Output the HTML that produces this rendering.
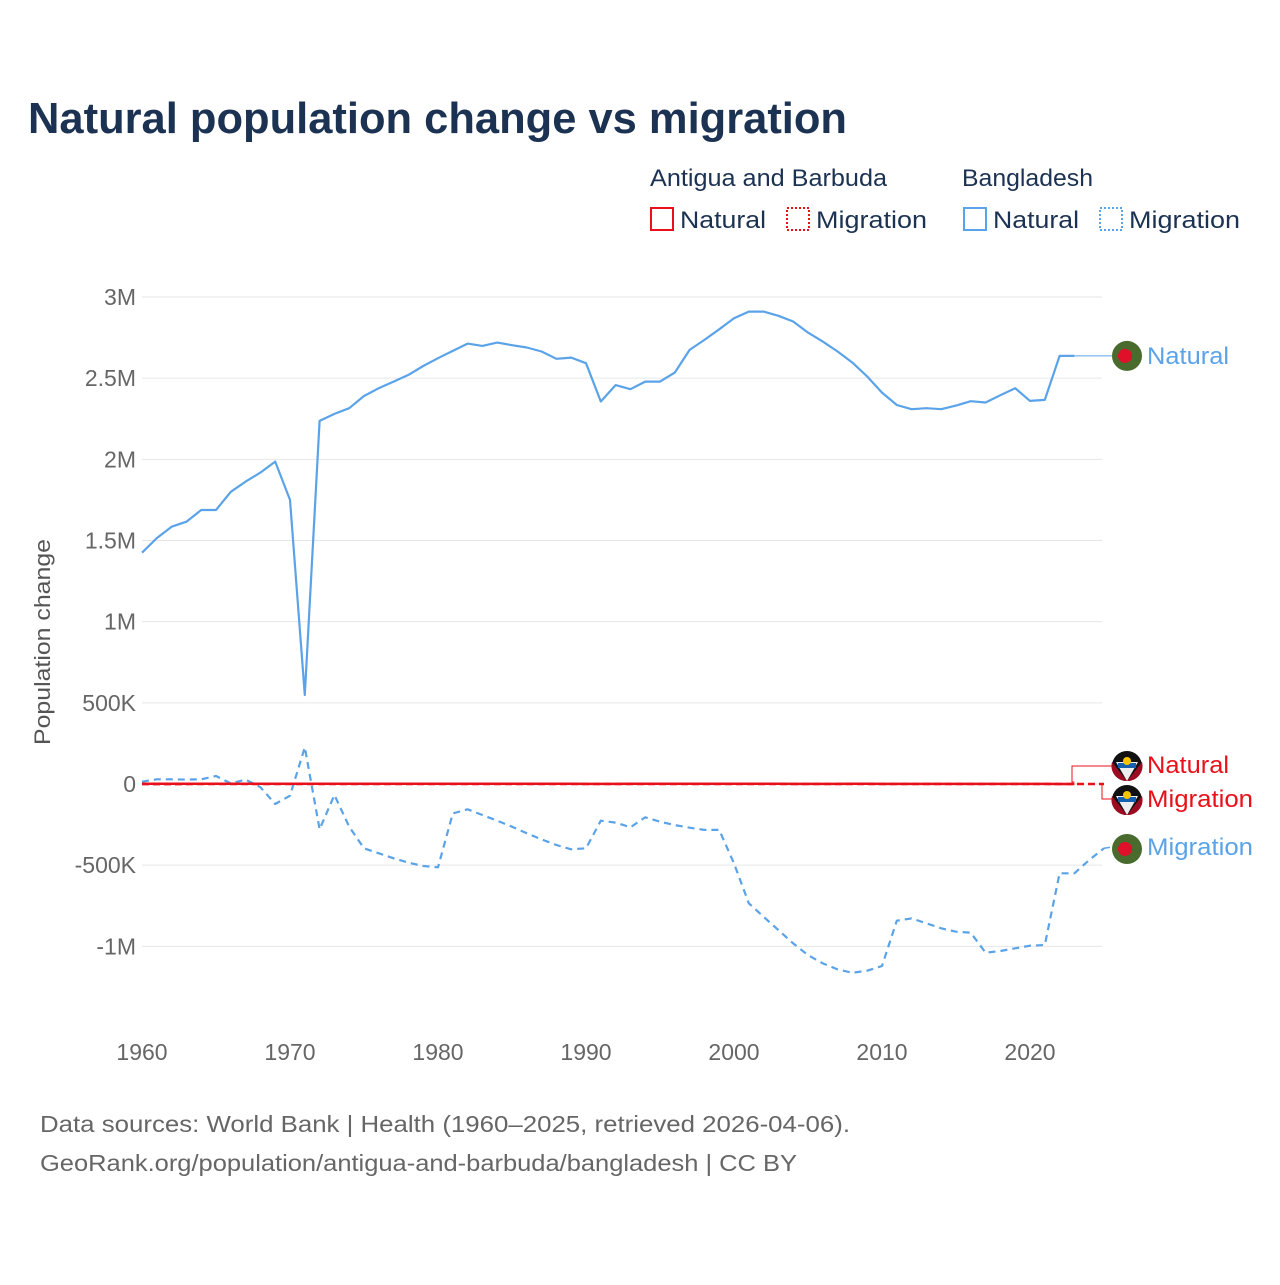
<!DOCTYPE html>
<html><head><meta charset="utf-8"><style>
body{margin:0;background:#fff;font-family:"Liberation Sans",sans-serif;}
svg text{font-family:"Liberation Sans",sans-serif;}
</style></head><body>
<svg width="1280" height="1280" viewBox="0 0 1280 1280">
<text x="28" y="133" font-size="44" font-weight="bold" fill="#1b3252" textLength="819" lengthAdjust="spacingAndGlyphs">Natural population change vs migration</text>
<g>
<text x="650" y="186" font-size="24" fill="#1b3252" textLength="237" lengthAdjust="spacingAndGlyphs">Antigua and Barbuda</text>
<text x="962" y="186" font-size="24" fill="#1b3252" textLength="131" lengthAdjust="spacingAndGlyphs">Bangladesh</text>
<g><rect x="651" y="208" width="22" height="22" fill="none" stroke="#e8101a" stroke-width="2"/><text x="680" y="228" font-size="24" fill="#1b3252" textLength="86" lengthAdjust="spacingAndGlyphs">Natural</text></g>
<g><rect x="787" y="208" width="22" height="22" fill="none" stroke="#e8101a" stroke-width="2" stroke-dasharray="2,2"/><text x="816" y="228" font-size="24" fill="#1b3252" textLength="111" lengthAdjust="spacingAndGlyphs">Migration</text></g>
<g><rect x="964" y="208" width="22" height="22" fill="none" stroke="#5ba3e8" stroke-width="2"/><text x="993" y="228" font-size="24" fill="#1b3252" textLength="86" lengthAdjust="spacingAndGlyphs">Natural</text></g>
<g><rect x="1100" y="208" width="22" height="22" fill="none" stroke="#5ba3e8" stroke-width="2" stroke-dasharray="2,2"/><text x="1129" y="228" font-size="24" fill="#1b3252" textLength="111" lengthAdjust="spacingAndGlyphs">Migration</text></g>
</g>
<g id="grid"></g>
<g id="yticks"></g>
<g id="xticks"></g>
<text transform="translate(50,642) rotate(-90)" text-anchor="middle" font-size="22" fill="#555" textLength="206" lengthAdjust="spacingAndGlyphs">Population change</text>
<g id="series"></g>
<g id="labels"></g>
<text x="40" y="1132" font-size="23" fill="#666" textLength="810" lengthAdjust="spacingAndGlyphs">Data sources: World Bank | Health (1960–2025, retrieved 2026-04-06).</text>
<text x="40" y="1171" font-size="23" fill="#666" textLength="757" lengthAdjust="spacingAndGlyphs">GeoRank.org/population/antigua-and-barbuda/bangladesh | CC BY</text>
</svg>
<script>
const startYear = 1960;
const yTicks = [3000000,2500000,2000000,1500000,1000000,500000,0,-500000,-1000000];
const yTickLabels = ["3M","2.5M","2M","1.5M","1M","500K","0","-500K","-1M"];
const xTicks = [1960,1970,1980,1990,2000,2010,2020];
const bdNatural = [1425,1515,1585,1616,1688,1688,1800,1863,1918,1986,1750,548,2237,2280,2315,2390,2438,2479,2520,2575,2623,2668,2713,2699,2719,2703,2689,2664,2619,2627,2592,2356,2457,2432,2479,2479,2534,2674,2736,2801,2869,2910,2910,2884,2849,2781,2725,2664,2596,2510,2411,2335,2309,2315,2309,2331,2358,2350,2395,2438,2360,2366,2637,2637];
const bdMigration = [14,29,29,27,29,49,4,27,-20,-123,-72,226,-279,-68,-263,-396,-427,-458,-485,-505,-513,-181,-156,-191,-226,-263,-304,-341,-376,-402,-396,-226,-238,-267,-205,-232,-253,-269,-283,-283,-489,-735,-818,-900,-982,-1054,-1105,-1142,-1163,-1150,-1121,-842,-828,-858,-889,-910,-916,-1039,-1029,-1012,-996,-992,-550,-550,-468,-396];
const agNatural = [1.5,1.6,1.6,1.5,1.5,1.4,1.4,1.3,1.3,1.2,1.2,1.2,1.1,1.1,1.1,1.0,1.0,1.0,1.0,1.0,1.0,1.0,1.0,1.0,1.0,1.0,1.0,1.0,1.0,1.0,0.9,0.9,0.9,1.0,1.0,1.1,1.1,1.1,1.0,1.0,1.0,1.1,1.1,1.0,0.9,0.9,0.9,0.9,1.0,1.0,0.9,0.9,0.8,0.8,0.7,0.7,0.6,0.6,0.6,0.5,0.5,0.4,0.3,0.3];
const agMigration = [-0.5,-0.5,-0.4,-0.4,-0.3,-0.3,-0.3,-0.3,-0.2,-0.2,-0.2,-0.2,-0.2,-0.2,-0.2,-0.2,-0.2,-0.2,-0.2,-0.2,-0.2,-0.2,-0.2,-0.2,-0.2,-0.2,-0.2,-0.2,-0.2,-0.2,0,0.3,0.3,0.3,0.3,0.3,0.3,0.3,0.3,0.3,0.3,0.3,0.3,0.1,0.1,0.1,0.1,0.1,0.1,0.1,0.1,0.1,0.1,0.1,0.1,0.1,0.1,0.1,0.1,0.1,0.1,0.1,0.1,0.1,0.1,0.1];
const NS='http://www.w3.org/2000/svg';
function X(yr){return 142+(yr-1960)*(1030-142)/60;}
function Y(v){return 784-v*(784-297)/3000000;}
function mk(tag,attrs,parent){const e=document.createElementNS(NS,tag);for(const k in attrs)e.setAttribute(k,attrs[k]);parent.appendChild(e);return e;}
const grid=document.getElementById('grid'),yt=document.getElementById('yticks'),xt=document.getElementById('xticks'),ser=document.getElementById('series'),lab=document.getElementById('labels');
yTicks.forEach((v,i)=>{
 const l=mk('line',{x1:142,x2:1102,y1:Y(v),y2:Y(v),stroke:'#e6e6e6','stroke-width':1},grid);
 
 
 const t=mk('text',{x:136,y:Y(v)+8,'text-anchor':'end','font-size':23,fill:'#666'},yt);
 t.textContent=yTickLabels[i];
 
 
});
xTicks.forEach(yr=>{
 const t=mk('text',{x:X(yr),y:1060,'text-anchor':'middle','font-size':23,fill:'#666'},xt);
 t.textContent=yr;
 
 
});
function pts(arr,scale){return arr.map((v,i)=>X(startYear+i).toFixed(1)+','+Y(v*scale).toFixed(1)).join(' ');}
function line(arr,scale,color,dash,w,name){
 const p=mk('polyline',{points:pts(arr,scale),fill:'none',stroke:color,'stroke-width':w,'stroke-linejoin':'round'},ser);
 if(dash)p.setAttribute('stroke-dasharray',dash);
 
 
}
line(bdNatural,1000,'#5ba3e8',null,2.2,'line-bangladesh-natural');
line(bdMigration,1000,'#5ba3e8','7,5',2.2,'line-bangladesh-migration');
line(agMigration,1000,'#e8101a','7,4',2.5,'line-antigua-migration');
line(agNatural,1000,'#e8101a',null,2.5,'line-antigua-natural');
function flagBD(cx,cy){const g=mk('g',{},lab);mk('circle',{cx:cx,cy:cy,r:15,fill:'#4a6b2e'},g);mk('circle',{cx:cx-2,cy:cy,r:7,fill:'#e0102a'},g);return g;}
function flagAG(cx,cy){const g=mk('g',{},lab);mk('circle',{cx:cx,cy:cy,r:15,fill:'#111'},g);mk('path',{d:`M${cx-15} ${cy-4} A15 15 0 0 0 ${cx} ${cy+15} Z`,fill:'#9b0b22'},g);mk('path',{d:`M${cx+15} ${cy-4} A15 15 0 0 1 ${cx} ${cy+15} Z`,fill:'#9b0b22'},g);mk('polygon',{points:`${cx-11},${cy-4} ${cx+11},${cy-4} ${cx},${cy+15}`,fill:'#eee'},g);mk('rect',{x:cx-9,y:cy-3,width:18,height:5,fill:'#1560b0'},g);mk('circle',{cx:cx,cy:cy-5,r:4,fill:'#f5c400'},g);return g;}
const lastBN=X(startYear+bdNatural.length-1), lastBM=X(startYear+bdMigration.length-1);
const bnY=Y(bdNatural[bdNatural.length-1]*1000);
mk('line',{x1:lastBN,y1:bnY,x2:1112,y2:bnY,stroke:'#5ba3e8','stroke-width':1},lab);
mk('polyline',{points:`${lastBM},${Y(bdMigration[bdMigration.length-1]*1000)} 1112,847`,fill:'none',stroke:'#5ba3e8','stroke-width':1.5,'stroke-dasharray':'6,4'},lab);
mk('polyline',{points:`${X(startYear+agNatural.length-1)},782 1072,782 1072,766 1112,766`,fill:'none',stroke:'#e8101a','stroke-width':1},lab);
mk('polyline',{points:`1102,784 1102,799 1112,799`,fill:'none',stroke:'#e8101a','stroke-width':1},lab);
const f1=flagBD(1127,bnY);
const f2=flagAG(1127,766);
const f3=flagAG(1127,800);
const f4=flagBD(1127,849);
[[bnY,'Natural','#5ba3e8','label-bangladesh-natural',82],[765,'Natural','#e8101a','label-antigua-natural',82],[799,'Migration','#e8101a','label-antigua-migration',106],[847,'Migration','#5ba3e8','label-bangladesh-migration',106]].forEach(d=>{
 const t=mk('text',{x:1147,y:d[0]+8,'font-size':24,fill:d[2],textLength:d[4],lengthAdjust:'spacingAndGlyphs'},lab);
 t.textContent=d[1];
 
 
});
</script>
</body></html>
